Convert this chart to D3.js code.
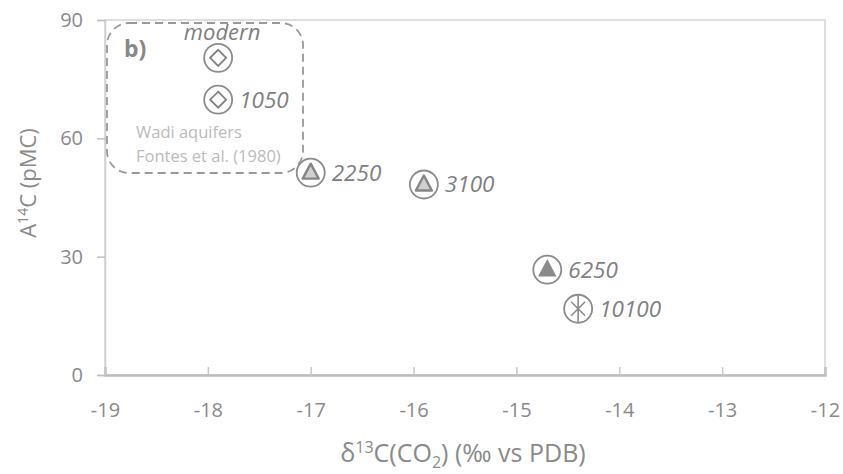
<!DOCTYPE html>
<html><head><meta charset="utf-8">
<script src="https://cdn.jsdelivr.net/npm/d3@7"></script>
<style>body{margin:0;background:#fff}svg{display:block}</style>
</head><body>
<svg id="c" width="843" height="474"></svg>
<script>
const labels = ["modern","1050","2250","3100","6250","10100"];
const d13C = [-17.9,-17.9,-17.0,-15.9,-14.7,-14.4];
const a14C = [80.4,69.8,51.3,48.3,26.7,16.8];
const symbols = ["diamond","diamond","triangleLight","triangleLight","triangleDark","asterisk"];
const xTicks = [-19,-18,-17,-16,-15,-14,-13,-12];
const yTicks = [0,30,60,90];

const svg = d3.select("#c");
const L=105,R=825,T=20,B=375;
const x = d3.scaleLinear().domain([-19,-12]).range([L,R]);
const y = d3.scaleLinear().domain([0,90]).range([B,T]);
const font = "'Open Sans', sans-serif";
const grey = "#8a8a8a";

// frame
svg.append("rect").attr("x",L).attr("y",T).attr("width",R-L).attr("height",B-T)
  .attr("fill","none").attr("stroke","#d4d4d4").attr("stroke-width",1.5);

// y axis
const ya = svg.append("g").attr("transform",`translate(${L},0)`)
  .call(d3.axisLeft(y).tickValues(yTicks).tickSize(8).tickPadding(14));
ya.select(".domain").attr("stroke","#cfcfcf").attr("stroke-width",1.5);
ya.selectAll(".tick line").attr("stroke","#bfbfbf").attr("stroke-width",1.5);
ya.selectAll("text").attr("fill",grey).attr("font-size",20).attr("font-family",font);

// x axis
const xa = svg.append("g").attr("transform",`translate(0,${B})`)
  .call(d3.axisBottom(x).tickValues(xTicks).tickSize(-8).tickPadding(28).tickFormat(d3.format("d")));
xa.select(".domain").attr("stroke","#bdbdbd").attr("stroke-width",2.5);
xa.selectAll(".tick line").attr("stroke","#c8c8c8").attr("stroke-width",1.5);
xa.selectAll("text").attr("fill",grey).attr("font-size",20).attr("font-family",font)
  .text(d=>d3.format("d")(d).replace("−","-"));

// dashed rounded box
svg.append("rect").attr("x",107).attr("y",23).attr("width",196).attr("height",150)
  .attr("rx",22).attr("fill","none").attr("stroke","#999").attr("stroke-width",1.8)
  .attr("stroke-dasharray","8,5");
svg.append("text").attr("x",124).attr("y",57).text("b)").attr("font-family",font)
  .attr("font-weight","bold").attr("font-size",23).attr("fill","#888");
svg.append("text").attr("x",136).attr("y",138).text("Wadi aquifers").attr("font-family",font)
  .attr("font-size",16.5).attr("fill","#bbbbbb");
svg.append("text").attr("x",136).attr("y",162).text("Fontes et al. (1980)").attr("font-family",font)
  .attr("font-size",16.5).attr("fill","#bbbbbb");

// points
labels.forEach((lab,i)=>{
  const cx=x(d13C[i]), cy=y(a14C[i]);
  const g=svg.append("g").attr("transform",`translate(${cx},${cy})`);
  g.append("circle").attr("r",14).attr("fill","#fff").attr("stroke","#8c8c8c").attr("stroke-width",1.8);
  const s=symbols[i];
  if(s==="diamond"){
    g.append("path").attr("d","M0,-8L8,0L0,8L-8,0Z").attr("fill","#fff").attr("stroke","#808080").attr("stroke-width",1.8);
  } else if(s==="triangleLight"){
    g.append("path").attr("d","M0,-9L8,6L-8,6Z").attr("fill","#cfcfcf").attr("stroke","#858585").attr("stroke-width",2.4).attr("stroke-linejoin","round");
  } else if(s==="triangleDark"){
    g.append("path").attr("d","M0,-9L8,6L-8,6Z").attr("fill","#8a8a8a").attr("stroke","#8a8a8a").attr("stroke-width",1.5);
  } else {
    g.append("path").attr("d","M0,-13V13M-7,-7L7,7M7,-7L-7,7").attr("stroke","#8a8a8a").attr("stroke-width",1.6);
  }
  if(lab==="modern"){
    svg.append("text").attr("x",cx+4).attr("y",cy-18).attr("text-anchor","middle").text(lab)
      .attr("font-family",font).attr("font-style","italic").attr("font-size",22).attr("fill","#808080");
  } else {
    svg.append("text").attr("x",cx+21).attr("y",cy+8).text(lab)
      .attr("font-family",font).attr("font-style","italic").attr("font-size",22.5).attr("fill","#808080");
  }
});

// axis titles
const yt = svg.append("text").attr("transform","translate(36,183) rotate(-90)").attr("text-anchor","middle")
  .attr("font-family",font).attr("font-size",22).attr("fill",grey);
yt.append("tspan").text("A");
yt.append("tspan").text("14").attr("font-size",14).attr("dy",-8);
yt.append("tspan").text("C (pMC)").attr("dy",8);

const xt = svg.append("text").attr("x",463).attr("y",462).attr("text-anchor","middle")
  .attr("font-family",font).attr("font-size",25).attr("fill",grey);
xt.append("tspan").text("δ");
xt.append("tspan").text("13").attr("font-size",16).attr("dy",-9);
xt.append("tspan").text("C(CO").attr("dy",9);
xt.append("tspan").text("2").attr("font-size",16).attr("dy",6);
xt.append("tspan").text(") (‰ vs PDB)").attr("dy",-6);
</script>
</body></html>
